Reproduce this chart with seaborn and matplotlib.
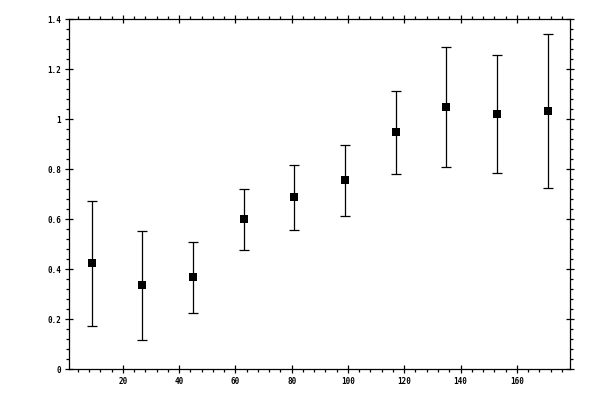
import numpy as np
import pandas as pd
import matplotlib
matplotlib.use('Agg')
import matplotlib.pyplot as plt
from matplotlib.ticker import MultipleLocator, FuncFormatter
import seaborn as sns

# Data
x_vals = [9, 27, 45, 63, 81, 99, 117, 135, 153, 171]
y_vals = [0.424, 0.336, 0.368, 0.600, 0.689, 0.757, 0.949, 1.050, 1.022, 1.034]
y_err = [0.250, 0.217, 0.141, 0.122, 0.130, 0.142, 0.166, 0.240, 0.236, 0.307]

sns.set_style('ticks')
plt.rcParams['font.family'] = ['DejaVu Sans Mono']

df = pd.DataFrame({'x': x_vals, 'y': y_vals, 'err': y_err})

fig = plt.figure(figsize=(6, 4), dpi=100)
ax = fig.add_axes([0.1155, 0.0768, 0.835, 0.875])

# error bars first, then the square markers on top
ax.errorbar(df['x'], df['y'], yerr=df['err'], fmt='none', ecolor='black',
            elinewidth=0.9, capsize=3.4, capthick=0.9, zorder=2)
sns.scatterplot(data=df, x='x', y='y', marker='s', s=34, color='black',
                edgecolor='black', linewidth=0, ax=ax, zorder=3)

ax.set_xlim(1, 179)
ax.set_ylim(0, 1.4)
ax.xaxis.set_major_locator(MultipleLocator(20))
ax.xaxis.set_minor_locator(MultipleLocator(4))
ax.yaxis.set_major_locator(MultipleLocator(0.2))
ax.yaxis.set_minor_locator(MultipleLocator(0.04))
ax.yaxis.set_major_formatter(FuncFormatter(lambda v, p: '{:g}'.format(round(v, 2))))
ax.xaxis.set_major_formatter(FuncFormatter(lambda v, p: '{:g}'.format(v)))

ax.set_xlabel('')
ax.set_ylabel('')
for side in ['top', 'bottom', 'left', 'right']:
    ax.spines[side].set_visible(True)
    ax.spines[side].set_linewidth(0.9)
    ax.spines[side].set_color('black')

ax.tick_params(which='both', top=True, right=True, bottom=True, left=True,
               labeltop=False, labelright=False, colors='black')
ax.tick_params(which='major', direction='inout', length=5.5, width=0.9,
               labelsize=5.5, pad=2.5)
ax.tick_params(which='minor', direction='out', length=2.5, width=0.9)
ax.tick_params(axis='y', which='major', pad=3)
for lab in ax.get_xticklabels() + ax.get_yticklabels():
    lab.set_fontweight('bold')

fig.savefig('out.png', dpi=100, facecolor='white')
